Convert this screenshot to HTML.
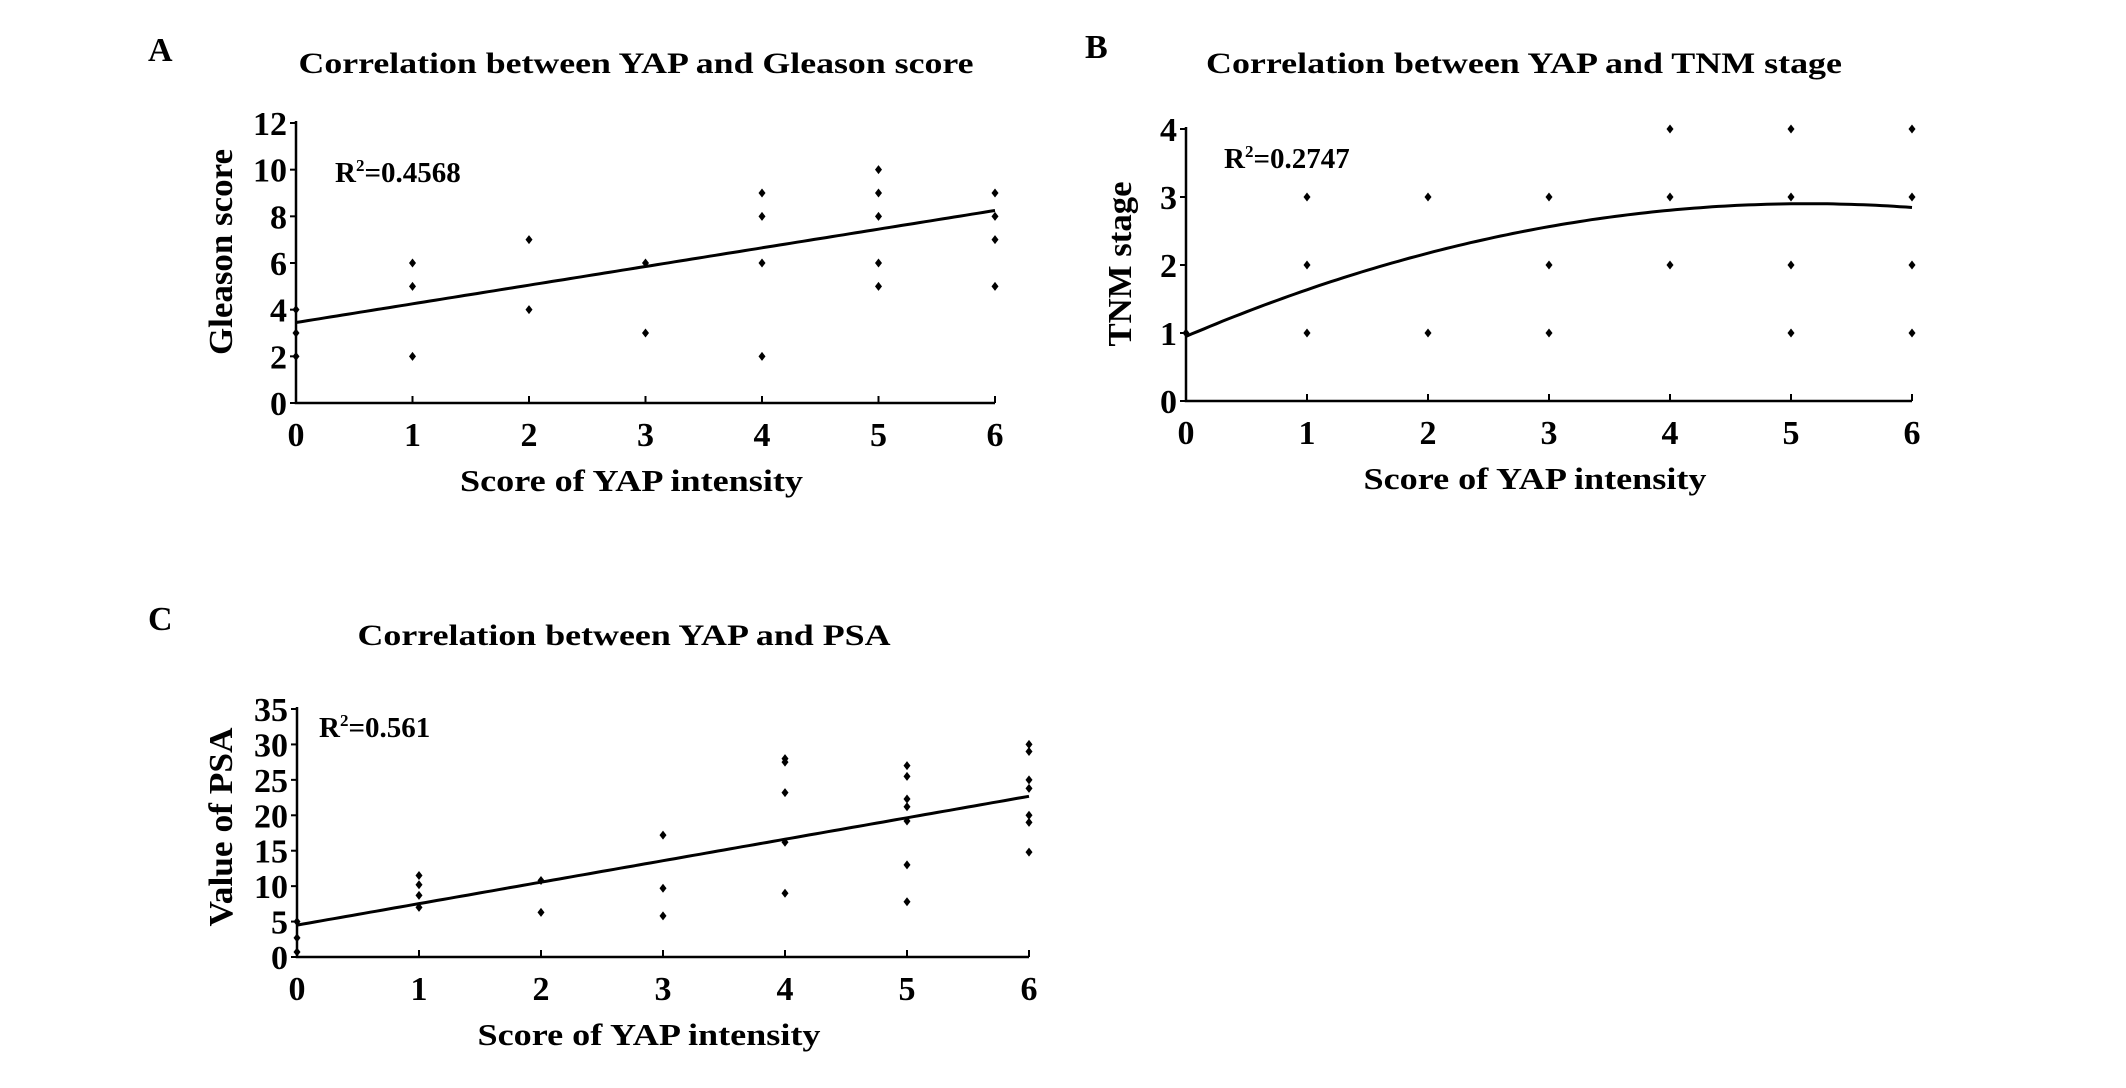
<!DOCTYPE html>
<html><head><meta charset="utf-8"><style>
html,body{margin:0;padding:0;background:#fff;}
svg{display:block;font-family:"Liberation Serif",serif;font-weight:bold;}
</style></head><body>
<svg id="fig" width="2126" height="1088" viewBox="0 0 2126 1088">
<text x="148" y="61" font-size="34">A</text>
<text x="1085" y="58" font-size="34">B</text>
<text x="148" y="630" font-size="34">C</text>
</svg>
<script>
// Panel A data
const aX = [0,0,0,1,1,1,2,2,3,3,4,4,4,4,5,5,5,5,5,6,6,6,6];
const aY = [4,3,2,6,5,2,7,4,6,3,9,8,6,2,10,9,8,6,5,9,8,7,5];
const aFit = [3.45, 0.8];
const aYTicks = [0,2,4,6,8,10,12];
// Panel B data
const bX = [0,1,1,1,2,2,3,3,3,4,4,4,5,5,5,5,6,6,6,6];
const bY = [1,3,2,1,3,1,3,2,1,4,3,2,4,3,2,1,4,3,2,1];
const bFit = [0.95, 0.76, -0.074];
const bYTicks = [0,1,2,3,4];
// Panel C data
const cX = [0,0,0,1,1,1,1,2,2,3,3,3,4,4,4,4,4,5,5,5,5,5,5,5,6,6,6,6,6,6,6];
const cY = [5,2.7,0.7,11.5,10.2,8.7,7,10.8,6.3,17.2,9.7,5.8,28,27.5,23.2,16.2,9,27,25.5,22.3,21.2,19.2,13,7.8,30,29,25,23.8,20,19,14.8];
const cFit = [4.5, 3.03];
const cYTicks = [0,5,10,15,20,25,30,35];
const xTicks = [0,1,2,3,4,5,6];

const NS = "http://www.w3.org/2000/svg";
const svg = document.getElementById('fig');
function mk(tag, attrs, parent, text){
  const e = document.createElementNS(NS, tag);
  for (const k in attrs) e.setAttribute(k, attrs[k]);
  if (text !== undefined) e.textContent = text;
  (parent||svg).appendChild(e);
  return e;
}
function panel(id, L, cfg){
  const g = mk('g', {});
  
  
  const sx = v => L.x0 + (L.x1 - L.x0) * v / 6;
  const sy = v => L.y0 - (L.y0 - L.y1) * v / cfg.yMax;
  const t = mk('text', {x: L.tx, y: L.ty, 'font-size': 30, 'text-anchor':'middle', textLength: L.tw, lengthAdjust:'spacingAndGlyphs'}, g, cfg.title);
  
  
  const ax = mk('path', {d:`M${L.x0},${L.y1-2} L${L.x0},${L.y0} L${L.x1},${L.y0}`, stroke:'#000', 'stroke-width':2.5, fill:'none'}, g);
  
  
  cfg.yTicks.forEach(v => {
    const y = sy(v);
    mk('line', {x1:L.x0-6, x2:L.x0, y1:y, y2:y, stroke:'#000', 'stroke-width':2}, g);
    const tl = mk('text', {x:L.x0-9, y:y+12, 'font-size':34, 'text-anchor':'end'}, g, String(v));
    
    
  });
  xTicks.forEach(v => {
    const x = sx(v);
    mk('line', {x1:x, x2:x, y1:L.y0, y2:L.y0-7, stroke:'#000', 'stroke-width':2}, g);
    const tl = mk('text', {x:x, y:L.y0+43, 'font-size':34, 'text-anchor':'middle'}, g, String(v));
    
    
  });
  const xl = mk('text', {x:(L.x0+L.x1)/2 - 14, y:L.y0+88, 'font-size':31, 'text-anchor':'middle', textLength:343, lengthAdjust:'spacingAndGlyphs'}, g, 'Score of YAP intensity');
  
  
  const yl = mk('text', {x:0, y:0, 'font-size':34, 'text-anchor':'middle', textLength:L.ylw, lengthAdjust:'spacingAndGlyphs', transform:`translate(${L.ylx},${L.yly}) rotate(-90)`}, g, cfg.ylabel);
  
  
  const r = mk('text', {x:L.rx, y:L.ry, 'font-size':29}, g);
  
  
  mk('tspan', {}, r, 'R');
  mk('tspan', {'font-size':17, dy:-11}, r, '2');
  mk('tspan', {dy:11}, r, '=' + cfg.r2);
  let d = '';
  for (let i = 0; i <= 120; i++){
    const xv = 6 * i / 120;
    let yv = 0;
    cfg.fit.forEach((c, k) => { yv += c * Math.pow(xv, k); });
    d += (i ? 'L' : 'M') + sx(xv).toFixed(1) + ',' + sy(yv).toFixed(1);
  }
  const fl = mk('path', {d:d, stroke:'#000', 'stroke-width':3, fill:'none'}, g);
  
  
  cfg.xs.forEach((xv, i) => {
    const x = sx(xv), y = sy(cfg.ys[i]);
    const p = mk('path', {d:`M${x},${y-4.5} L${x+3.5},${y} L${x},${y+4.5} L${x-3.5},${y} Z`, fill:'#000'}, g);
    
    
  });
}
panel('a', {x0:296,x1:995,y0:403,y1:123,tx:636,ty:73,tw:675,ylx:232,yly:252,ylw:206,rx:335,ry:182},
  {title:'Correlation between YAP and Gleason score', ylabel:'Gleason score', r2:'0.4568', yMax:12, yTicks:aYTicks, xs:aX, ys:aY, fit:aFit});
panel('b', {x0:1186,x1:1912,y0:401,y1:129,tx:1524,ty:73,tw:636,ylx:1131,yly:264,ylw:165,rx:1224,ry:168},
  {title:'Correlation between YAP and TNM stage', ylabel:'TNM stage', r2:'0.2747', yMax:4, yTicks:bYTicks, xs:bX, ys:bY, fit:bFit});
panel('c', {x0:297,x1:1029,y0:957,y1:709,tx:624,ty:645,tw:533,ylx:232,yly:827,ylw:199,rx:319,ry:737},
  {title:'Correlation between YAP and PSA', ylabel:'Value of PSA', r2:'0.561', yMax:35, yTicks:cYTicks, xs:cX, ys:cY, fit:cFit});
</script>
</body></html>
